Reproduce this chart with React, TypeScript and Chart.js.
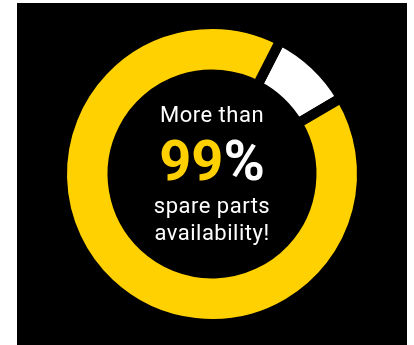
import React, { useEffect, useRef } from "react";
import { Chart, registerables } from "chart.js";

Chart.register(...registerables);

const categories = ["Unavailable", "Available"];
const shareValues = [9, 91];
const sliceColors = ["#FFFFFF", "#FFD100"];
const headline = "More than";
const bigNumber = "99";
const bigUnit = "%";
const subLines = ["spare parts", "availability!"];

export default function App() {
  const canvasRef = useRef<HTMLCanvasElement | null>(null);

  useEffect(() => {
    const ctx = canvasRef.current;
    if (!ctx) return;
    const chart = new Chart(ctx, {
      type: "doughnut",
      data: {
        labels: categories,
        datasets: [
          {
            data: shareValues,
            backgroundColor: sliceColors,
            borderColor: "#000000",
            borderWidth: 10,
            hoverOffset: 0,
          },
        ],
      },
      options: {
        animation: false,
        responsive: false,
        maintainAspectRatio: false,
        rotation: 27.1,
        radius: 150,
        cutout: "66.3%",
        events: [],
        plugins: {
          legend: { display: false },
          tooltip: { enabled: false },
        },
      },
    });
    return () => chart.destroy();
  }, []);

  const lineStyle: React.CSSProperties = {
    position: "absolute",
    left: 0,
    width: 390,
    textAlign: "center",
    fontFamily: "Roboto, sans-serif",
    color: "#FFFFFF",
    whiteSpace: "nowrap",
  };

  return (
    <div
      style={{
        position: "absolute",
        left: 17,
        top: 3,
        width: 390,
        height: 342,
        background: "#000000",
        overflow: "hidden",
      }}
    >
      <canvas ref={canvasRef} width={390} height={342} style={{ display: "block" }} />
      <div style={{ ...lineStyle, top: 100.5, fontSize: 22, lineHeight: "22px", letterSpacing: "0.5px" }}>
        {headline}
      </div>
      <div
        style={{
          ...lineStyle,
          top: 129.8,
          fontSize: 56,
          lineHeight: "56px",
          fontWeight: 700,
        }}
      >
        <span style={{ color: "#FFD100" }}>{bigNumber}</span>
        <span>{bigUnit}</span>
      </div>
      <div style={{ ...lineStyle, top: 191.5, fontSize: 22, lineHeight: "22px", letterSpacing: "0.5px" }}>
        {subLines[0]}
      </div>
      <div style={{ ...lineStyle, top: 218.5, fontSize: 22, lineHeight: "22px", letterSpacing: "0.5px" }}>
        {subLines[1]}
      </div>
    </div>
  );
}
